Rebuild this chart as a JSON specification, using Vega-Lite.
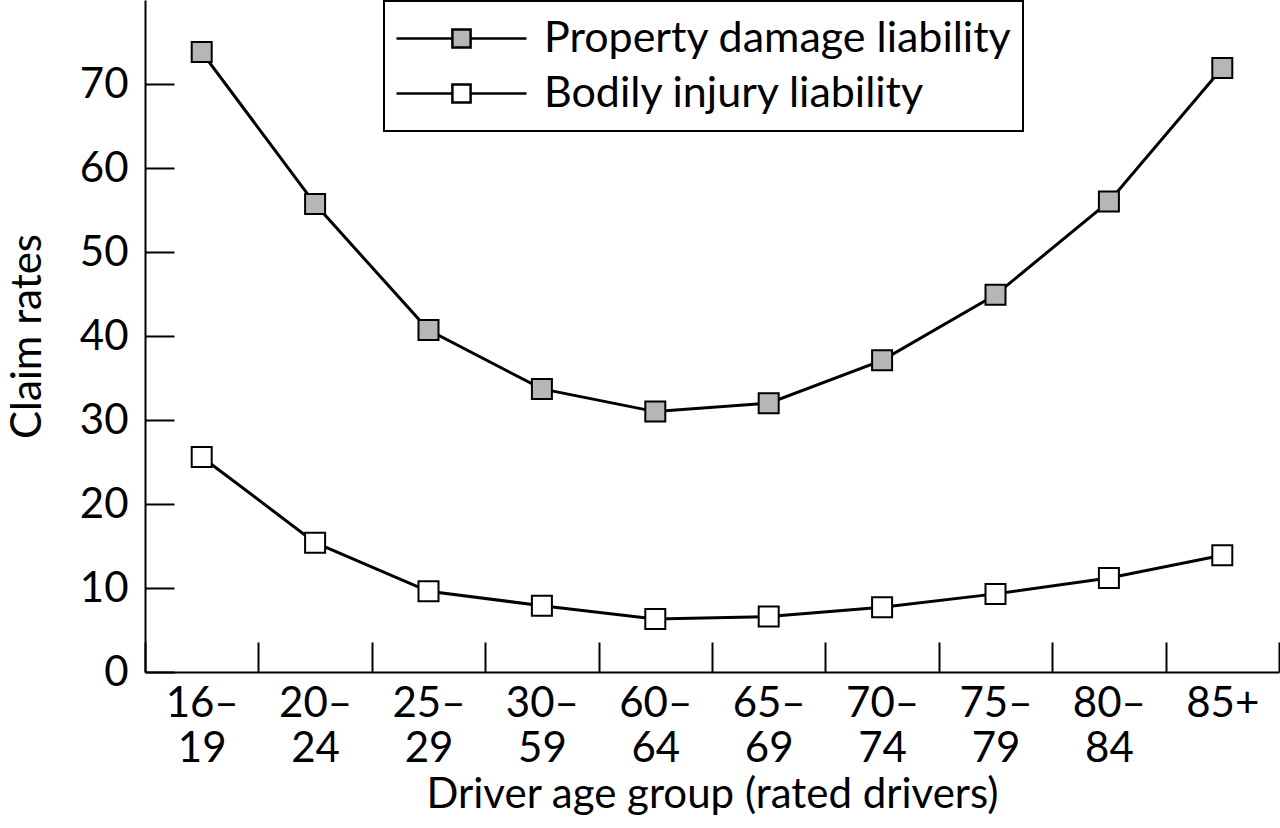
{
  "$schema": "https://vega.github.io/schema/vega-lite/v6.json",
  "width": 1134,
  "height": 672,
  "autosize": {"type": "none"},
  "padding": {"left": 145, "top": 0, "right": 1, "bottom": 156},
  "background": "white",
  "config": {
    "view": {"stroke": null},
    "font": "Lato",
    "axis": {"labelFont": "Lato", "titleFont": "Lato", "labelColor": "black", "titleColor": "black", "domainColor": "black", "tickColor": "black", "grid": false},
    "legend": {"labelFont": "Lato", "strokeWidth": 2}
  },
  "data": {
    "values": [
      {"age": "16–19", "series": "Property damage liability", "rate": 73.8},
      {"age": "20–24", "series": "Property damage liability", "rate": 55.7},
      {"age": "25–29", "series": "Property damage liability", "rate": 40.7},
      {"age": "30–59", "series": "Property damage liability", "rate": 33.7},
      {"age": "60–64", "series": "Property damage liability", "rate": 31.0},
      {"age": "65–69", "series": "Property damage liability", "rate": 32.0},
      {"age": "70–74", "series": "Property damage liability", "rate": 37.1},
      {"age": "75–79", "series": "Property damage liability", "rate": 44.9},
      {"age": "80–84", "series": "Property damage liability", "rate": 56.0},
      {"age": "85+", "series": "Property damage liability", "rate": 71.9},
      {"age": "16–19", "series": "Bodily injury liability", "rate": 25.6},
      {"age": "20–24", "series": "Bodily injury liability", "rate": 15.4},
      {"age": "25–29", "series": "Bodily injury liability", "rate": 9.6},
      {"age": "30–59", "series": "Bodily injury liability", "rate": 7.9},
      {"age": "60–64", "series": "Bodily injury liability", "rate": 6.3},
      {"age": "65–69", "series": "Bodily injury liability", "rate": 6.6},
      {"age": "70–74", "series": "Bodily injury liability", "rate": 7.7},
      {"age": "75–79", "series": "Bodily injury liability", "rate": 9.3},
      {"age": "80–84", "series": "Bodily injury liability", "rate": 11.2},
      {"age": "85+", "series": "Bodily injury liability", "rate": 13.9}
    ]
  },
  "encoding": {
    "x": {
      "field": "age",
      "type": "ordinal",
      "sort": null,
      "bandPosition": 0.5,
      "scale": {"type": "band", "paddingInner": 0, "paddingOuter": 0},
      "axis": {
        "title": "Driver age group (rated drivers)",
        "titleFontSize": 42,
        "titleFontWeight": "normal",
        "titlePadding": 5,
        "labelAngle": 0,
        "labelFontSize": 42,
        "labelLineHeight": 45,
        "labelBaseline": "top",
        "labelPadding": 41,
        "labelExpr": "datum.label == '85+' ? '85+' : [slice(datum.label, 0, 3), slice(datum.label, 3)]",
        "tickBand": "extent",
        "tickSize": -30,
        "tickWidth": 2,
        "domainWidth": 2
      }
    },
    "y": {
      "field": "rate",
      "type": "quantitative",
      "scale": {"domain": [0, 80], "nice": false},
      "axis": {
        "title": "Claim rates",
        "titleFontSize": 42,
        "titleFontWeight": "normal",
        "titlePadding": 30,
        "values": [0, 10, 20, 30, 40, 50, 60, 70],
        "labelFontSize": 42,
        "labelPadding": 46,
        "tickSize": -29,
        "tickWidth": 2,
        "domainWidth": 2
      }
    }
  },
  "layer": [
    {
      "mark": {"type": "line", "color": "black", "strokeWidth": 3},
      "encoding": {"detail": {"field": "series", "type": "nominal"}}
    },
    {
      "mark": {"type": "square", "size": 400, "stroke": "black", "strokeWidth": 2, "opacity": 1},
      "encoding": {
        "fill": {
          "field": "series",
          "type": "nominal",
          "scale": {"domain": ["Property damage liability", "Bodily injury liability"], "range": ["#b6b6b6", "#ffffff"]},
          "legend": {
            "orient": "none",
            "legendX": 239,
            "legendY": 1,
            "title": null,
            "symbolType": "M-1,0H-0.14M0.14,0H1M-0.14,-0.14H0.14V0.14H-0.14Z",
            "symbolSize": 16900,
            "symbolStrokeColor": "black",
            "symbolStrokeWidth": 2.5,
            "labelFontSize": 43,
            "labelColor": "black",
            "labelLimit": 700,
            "labelOffset": 16,
            "padding": 11,
            "strokeColor": "black",
            "fillColor": "white",
            "clipHeight": 53,
            "rowPadding": 2
          }
        }
      }
    }
  ]
}
